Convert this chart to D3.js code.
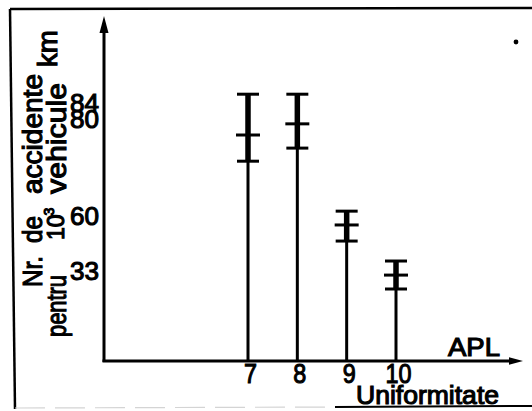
<!DOCTYPE html>
<html>
<head>
<meta charset="utf-8">
<script src="https://cdn.jsdelivr.net/npm/d3@7"></script>
<style>
  html, body { margin: 0; padding: 0; background: #fff; }
  svg { display: block; }
  text { font-family: "Liberation Sans", Arimo, "DejaVu Sans", sans-serif; fill: #000; stroke: #000; stroke-width: 1.1px; }
</style>
</head>
<body>
<svg id="chart" width="532" height="411"></svg>
<script>
// Uniformity class (APL) on the horizontal axis
const categories = [7, 8, 9, 10];
// Accidents per 10^3 vehicle-km for each class: upper limit, middle mark, lower limit
const upperValues  = [86.2, 86.2, 61.0, 37.9];
const middleValues = [76.7, 79.0, 55.6, 31.5];
const lowerValues  = [71.3, 74.0, 47.7, 26.4];
// Axis tick labels
const yTickValues = [33, 60, 80, 84];
const xTickValues = [7, 8, 9, 10];

const svg = d3.select("#chart");
const ink = "#000";

// The vertical scale of the schematic is stretched piecewise between the marked levels
const y = d3.scaleLinear()
  .domain([0, 33, 60, 80, 84])
  .range([361, 271, 216, 119, 103]);
const x = d3.scaleLinear().domain([7, 10]).range([248, 396]);

const x0 = 104;          // position of the vertical axis
const y0 = y(0);         // position of the horizontal axis

// Frame around the figure
svg.append("path").attr("d", "M10,9 L532,8").attr("stroke", ink).attr("stroke-width", 2.5).attr("fill", "none");
svg.append("path").attr("d", "M10,9 L15,409").attr("stroke", ink).attr("stroke-width", 2.5).attr("fill", "none");
svg.append("path").attr("d", "M15,408 L335,407").attr("stroke", "#d4d4d4").attr("stroke-width", 1.2)
  .attr("stroke-dasharray", "30,10").attr("fill", "none");
svg.append("path").attr("d", "M335,407 L532,406").attr("stroke", ink).attr("stroke-width", 2).attr("fill", "none");

// Axes with arrow heads
svg.append("line").attr("x1", x0).attr("y1", y0 + 1).attr("x2", x0).attr("y2", 30)
  .attr("stroke", ink).attr("stroke-width", 3);
svg.append("path").attr("d", `M${x0},16 L${x0 - 4.5},33 L${x0 + 4.5},33 Z`).attr("fill", ink);
svg.append("line").attr("x1", x0 - 1.5).attr("y1", y0).attr("x2", 512).attr("y2", y0)
  .attr("stroke", ink).attr("stroke-width", 3);
svg.append("path").attr("d", `M523,${y0} L509,${y0 - 3.8} L509,${y0 + 3.8} Z`).attr("fill", ink);

// Vertical lines with their range marks
const rows = categories.map((c, i) => ({
  c, up: upperValues[i], mid: middleValues[i], low: lowerValues[i]
}));
const g = svg.append("g");
g.selectAll("line.stem").data(rows).join("line").attr("class", "stem")
  .attr("x1", d => x(d.c)).attr("x2", d => x(d.c))
  .attr("y1", y0).attr("y2", d => y(d.up))
  .attr("stroke", ink).attr("stroke-width", 3);
g.selectAll("line.range").data(rows).join("line").attr("class", "range")
  .attr("x1", d => x(d.c)).attr("x2", d => x(d.c))
  .attr("y1", d => y(d.low)).attr("y2", d => y(d.up))
  .attr("stroke", ink).attr("stroke-width", 5.5);
[["up", 22], ["mid", 24], ["low", 22]].forEach(([key, w]) => {
  g.selectAll("line.t" + key).data(rows).join("line").attr("class", "t" + key)
    .attr("x1", d => x(d.c) - w / 2).attr("x2", d => x(d.c) + w / 2)
    .attr("y1", d => y(d[key])).attr("y2", d => y(d[key]))
    .attr("stroke", ink).attr("stroke-width", 3);
});

// Tick labels
const yAxis = svg.append("g").attr("transform", `translate(${x0},0)`)
  .call(d3.axisLeft(y).tickValues(yTickValues).tickSize(0).tickPadding(5).tickFormat(d3.format("d")));
yAxis.select(".domain").remove();
yAxis.attr("font-family", null).attr("font-size", null);
yAxis.selectAll("text").attr("font-size", 25)
  .attr("textLength", 29).attr("lengthAdjust", "spacingAndGlyphs");

const xAxis = svg.append("g").attr("transform", `translate(0,${y0})`)
  .call(d3.axisBottom(x).tickValues(xTickValues).tickSize(0).tickPadding(2).tickFormat(d3.format("d")));
xAxis.select(".domain").remove();
xAxis.attr("font-family", null).attr("font-size", null);
xAxis.selectAll("text").attr("font-size", 28).attr("dx", 2)
  .attr("textLength", d => String(d).length * 13).attr("lengthAdjust", "spacingAndGlyphs");

// Axis titles
svg.append("text").attr("x", 448).attr("y", 356).attr("font-size", 25)
  .attr("textLength", 52).attr("lengthAdjust", "spacingAndGlyphs").text("APL");
svg.append("text").attr("x", 356).attr("y", 404).attr("font-size", 25)
  .attr("textLength", 143).attr("lengthAdjust", "spacingAndGlyphs").text("Uniformitate");

// Vertical title, word by word
const titleWords = [
  { t: "Nr.", bx: 42, start: 287, len: 31 },
  { t: "de", bx: 42, start: 243, len: 27 },
  { t: "accidente", bx: 42, start: 194, len: 120 },
  { t: "pentru", bx: 66, start: 337, len: 62 },
  { t: "vehicule", bx: 66, start: 194, len: 111 },
  { t: "km", bx: 57, start: 67, len: 37 }
];
titleWords.forEach(w => {
  svg.append("text")
    .attr("transform", `translate(${w.bx},${w.start}) rotate(-90)`)
    .attr("font-size", 27)
    .attr("textLength", w.len).attr("lengthAdjust", "spacingAndGlyphs")
    .text(w.t);
});
const pow = svg.append("text")
  .attr("transform", "translate(64,240) rotate(-90)")
  .attr("font-size", 23);
pow.append("tspan").text("10");
pow.append("tspan").attr("font-size", 14).attr("dy", -10).attr("dx", -1).text("3");

// Stray speck near the upper right corner
svg.append("circle").attr("cx", 516).attr("cy", 42).attr("r", 2.4).attr("fill", ink);
</script>
</body>
</html>
